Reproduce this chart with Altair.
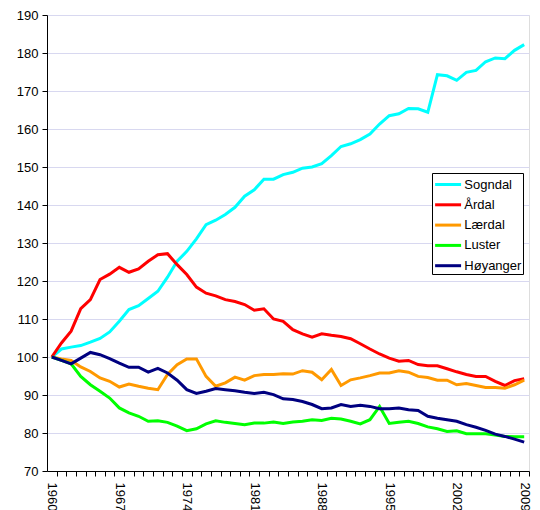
import altair as alt
import pandas as pd

years = list(range(1960, 2010))

names = ["Sogndal", "Årdal", "Lærdal", "Luster", "Høyanger"]
colors = ["#00FFFF", "#FF0000", "#FF9900", "#00FF00", "#000080"]

sogndal = [100, 102.1, 102.6, 103, 103.9, 104.9, 106.6, 109.4, 112.5, 113.5,
           115.4, 117.3, 121, 125.2, 127.8, 131.1, 134.8, 136, 137.5, 139.4,
           142.3, 144, 146.8, 146.8, 148, 148.6, 149.7, 150, 150.9, 153,
           155.4, 156.1, 157.2, 158.7, 161.3, 163.5, 164, 165.4, 165.3, 164.4,
           174.3, 174, 172.8, 174.9, 175.4, 177.7, 178.7, 178.5, 180.7, 182.2]
ardal = [100, 103.7, 106.8, 112.7, 115.1, 120.4, 121.8, 123.6, 122.3, 123.2,
         125.2, 126.9, 127.2, 124.3, 121.7, 118.4, 116.8, 116.1, 115.1, 114.6,
         113.8, 112.3, 112.7, 110, 109.4, 107.2, 106.1, 105.2, 106.1, 105.7,
         105.4, 104.8, 103.5, 102.1, 100.8, 99.7, 98.9, 99.1, 98, 97.7,
         97.7, 96.9, 96.1, 95.4, 94.9, 94.9, 93.6, 92.5, 93.8, 94.3]
laerdal = [100, 99.5, 99.1, 97.4, 96.2, 94.5, 93.6, 92.1, 92.9, 92.3,
           91.8, 91.4, 95.4, 98, 99.5, 99.5, 94.9, 92.3, 93.2, 94.7,
           93.9, 95.1, 95.4, 95.4, 95.6, 95.5, 96.4, 96, 94, 96.7,
           92.5, 94, 94.5, 95.1, 95.8, 95.8, 96.4, 96, 94.9, 94.6,
           93.9, 93.9, 92.7, 93, 92.5, 92, 92, 91.8, 92.7, 93.9]
luster = [100, 99.1, 98.2, 94.9, 92.7, 91, 89.2, 86.6, 85.3, 84.4,
          83.1, 83.2, 82.8, 81.8, 80.6, 81.1, 82.4, 83.2, 82.8, 82.5,
          82.2, 82.6, 82.6, 82.9, 82.5, 82.9, 83.1, 83.5, 83.3, 83.9,
          83.7, 83.1, 82.4, 83.5, 87, 82.5, 82.8, 83.1, 82.5, 81.6,
          81.1, 80.4, 80.6, 79.8, 79.8, 79.8, 79.5, 79.1, 79, 79]
hoyanger = [100, 99.1, 98.2, 99.7, 101.2, 100.6, 99.6, 98.4, 97.3, 97.3,
            96, 97, 95.8, 93.9, 91.4, 90.4, 91, 91.7, 91.4, 91.1,
            90.7, 90.4, 90.7, 90.1, 89, 88.8, 88.3, 87.5, 86.4, 86.6,
            87.5, 87, 87.3, 87, 86.4, 86.4, 86.6, 86.1, 85.9, 84.4,
            83.9, 83.5, 83.1, 82.2, 81.5, 80.7, 79.7, 79.1, 78.4, 77.6]

y_ticks = list(range(70, 191, 10))
x_tick_years = list(range(1959, 2010))

rows = []
for si, (name, vals) in enumerate(zip(names, [sogndal, ardal, laerdal, luster, hoyanger])):
    for yr, v in zip(years, vals):
        rows.append({"year": yr, "value": v, "kommune": name, "s": si})
df = pd.DataFrame(rows)

FONT = "Liberation Sans"
W = 482
half_step = W / 50 / 2

chart = alt.Chart(df).mark_line(strokeWidth=3).encode(
    x=alt.X("year:Q",
            scale=alt.Scale(domain=[1959.5, 2009.5], nice=False, zero=False),
            axis=alt.Axis(values=x_tick_years, tickOffset=half_step, labelOffset=-half_step,
                          labelExpr="datum.value >= 1960 && (datum.value - 1960) % 7 == 0 ? format(datum.value, 'd') : ''",
                          labelAngle=90, labelAlign="left", labelBaseline="middle",
                          labelFlush=False, labelOverlap=False, labelBound=False,
                          grid=False, tickSize=5, tickColor="black", domainColor="black",
                          labelPadding=6, labelFontSize=13, labelColor="black",
                          labelFont=FONT, title=None)),
    y=alt.Y("value:Q",
            scale=alt.Scale(domain=[70, 190], nice=False, zero=False),
            axis=alt.Axis(values=y_ticks, grid=True, gridColor="#d8d8f0", gridWidth=1,
                          tickSize=5, tickColor="black", domainColor="black",
                          labelPadding=4, labelFontSize=13, labelColor="black",
                          labelFont=FONT, title=None)),
    color=alt.Color("kommune:N",
                    scale=alt.Scale(domain=names, range=colors),
                    legend=alt.Legend(title=None, orient="none", legendX=385, legendY=158,
                                      direction="vertical", strokeColor="black",
                                      fillColor="white", padding=1,
                                      symbolType="M-1.5,0H1.5", symbolStrokeWidth=3,
                                      symbolSize=300, symbolOffset=4.6,
                                      labelFontSize=13,
                                      labelFont=FONT, labelColor="black",
                                      labelOffset=5.7, rowPadding=2.3)),
    detail="s:N",
).properties(
    width=W, height=456,
    padding={"left": 39, "top": 7, "right": 3, "bottom": 45},
    autosize=alt.AutoSizeParams(type="none"),
).configure_view(
    stroke="#a0a0a0", strokeWidth=2
).configure(font=FONT)

chart.save("out.html", embed_options={"renderer": "svg", "actions": False})
